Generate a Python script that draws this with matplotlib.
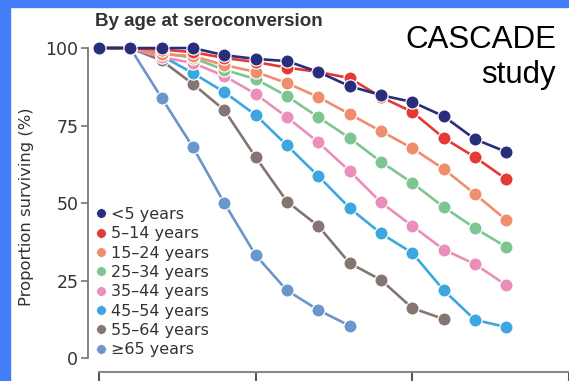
import matplotlib
matplotlib.use("Agg")
import matplotlib.pyplot as plt
from matplotlib.lines import Line2D
from matplotlib.patches import Rectangle

# Years since seroconversion
years = [0, 1, 2, 3, 4, 5, 6, 7, 8, 9, 10, 11, 12, 13]

labels = ["<5 years", "5\u201314 years", "15\u201324 years", "25\u201334 years",
          "35\u201344 years", "45\u201354 years", "55\u201364 years",
          "\u226565 years"]
colors = ["#2a2d7c", "#e23a35", "#ef8e6c", "#7dc591", "#e98fb9",
          "#3ca6de", "#847571", "#6a96cc"]

surv_lt5 = [100, 100, 100, 100, 97.7, 96.5, 95.8, 92.3, 87.7, 84.8, 82.6,
            78.0, 70.6, 66.5]
surv_5_14 = [100, 100, 99.5, 98.7, 96.8, 95.5, 93.7, 92.3, 90.3, 84.2, 79.4,
             71.0, 64.8, 57.7]
surv_15_24 = [100, 100, 98.0, 97.4, 94.5, 92.3, 88.7, 84.2, 78.7, 73.2, 67.7,
              61.0, 52.9, 44.5]
surv_25_34 = [100, 100, 98.5, 96.8, 93.0, 90.0, 84.5, 77.7, 71.0, 63.3, 56.5,
              48.7, 41.9, 35.8]
surv_35_44 = [100, 100, 97.0, 95.2, 91.0, 85.2, 77.7, 69.6, 60.3, 50.2, 42.6,
              35.0, 30.3, 23.5]
surv_45_54 = [100, 100, 97.5, 91.9, 85.8, 78.4, 68.6, 58.7, 48.4, 40.2, 33.9,
              21.9, 12.3, 10.0]
surv_55_64 = [100, 100, 96.0, 88.4, 80.0, 64.8, 50.5, 42.6, 30.6, 25.2, 16.1,
              12.6]
surv_ge65 = [100, 100, 83.9, 68.0, 50.0, 33.2, 21.8, 15.5, 10.4]

series = [surv_lt5, surv_5_14, surv_15_24, surv_25_34, surv_35_44,
          surv_45_54, surv_55_64, surv_ge65]

fig = plt.figure(figsize=(5.69, 3.81), dpi=100)
W, H = 569.0, 381.0

# blue frame along the top and left edges
fig.patches.append(Rectangle((0, 1 - 7 / H), 1, 7 / H, transform=fig.transFigure,
                             color="#437dfa", zorder=0))
fig.patches.append(Rectangle((0, 0), 10 / W, 1, transform=fig.transFigure,
                             color="#437dfa", zorder=0))

ax = fig.add_axes([88 / W, 9 / H, 481 / W, 332 / H])
ax.set_facecolor("none")

for vals, col in reversed(list(zip(series, colors))):
    ax.plot(years[:len(vals)], vals, color=col, lw=1.9, marker="o",
            markersize=9.5, markerfacecolor=col, markeredgecolor="white",
            markeredgewidth=0.9, clip_on=False)

ax.set_xlim(-0.35, 14.95)
ax.set_ylim(-4.5, 102.6)

for s in ["top", "right"]:
    ax.spines[s].set_visible(False)
ax.spines["left"].set_bounds(0, 100)
ax.spines["bottom"].set_bounds(0, 15)
ax.spines["left"].set_color("#777777")
ax.spines["bottom"].set_color("#888888")
ax.spines["left"].set_linewidth(1.3)
ax.spines["bottom"].set_linewidth(1.5)

ax.set_yticks([0, 25, 50, 75, 100])
ax.set_xticks([0, 5, 10, 15])
ax.tick_params(axis="y", direction="out", length=5, width=1.2, color="#777777",
               labelsize=12.5, labelcolor="#333333", pad=2)
ax.tick_params(axis="x", direction="out", length=12, width=1.5, color="#555555",
               labelbottom=False)

ax.set_ylabel("Proportion surviving (%)", fontsize=11.8, color="#333333")
ax.yaxis.set_label_coords(-54 / 481, (372 - 207) / 332)

fig.text(95 / W, 1 - 22 / H, "By age at seroconversion", fontsize=13.5,
         fontweight="bold", color="#333333", va="center", ha="left",
         family=["Liberation Sans", "DejaVu Sans"])
fig.text(556 / W, 1 - 25 / H, "CASCADE\nstudy", fontsize=22.5, color="black",
         ha="right", va="top", multialignment="right",
         family=["Liberation Sans", "DejaVu Sans"])

handles = [Line2D([], [], ls="none", marker="o", markersize=7,
                  markerfacecolor=c, markeredgecolor="white",
                  markeredgewidth=0.5) for c in colors]
leg = ax.legend(handles, labels, loc="upper left",
                bbox_to_anchor=(96.5 / W, 1 - 207 / H),
                bbox_transform=fig.transFigure, frameon=False, fontsize=11.5,
                handlelength=0.6, handletextpad=0.3, labelspacing=0.27,
                borderpad=0, borderaxespad=0)
for t in leg.get_texts():
    t.set_color("#333333")

fig.savefig("out.png", dpi=100)
